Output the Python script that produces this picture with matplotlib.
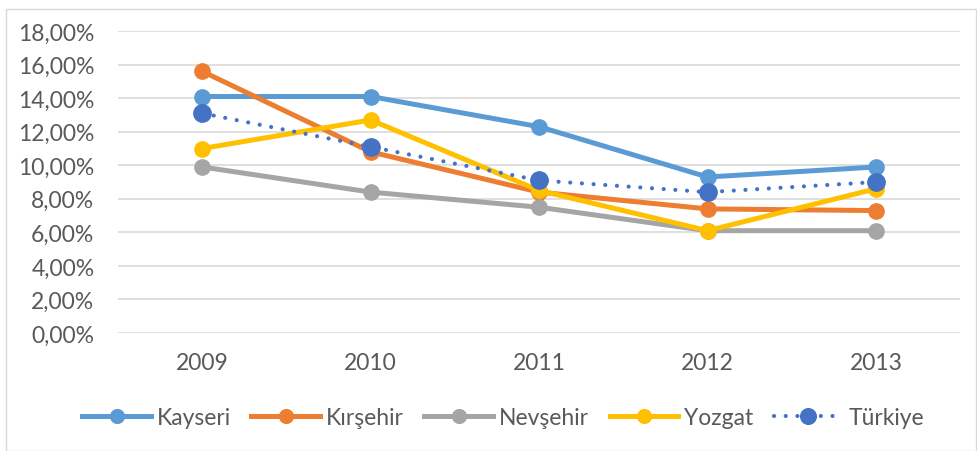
import matplotlib.pyplot as plt
from matplotlib.patches import Rectangle
from matplotlib.ticker import FuncFormatter

years = ["2009", "2010", "2011", "2012", "2013"]
kayseri = [14.1, 14.1, 12.3, 9.3, 9.9]
kirsehir = [15.6, 10.8, 8.4, 7.4, 7.3]
nevsehir = [9.9, 8.4, 7.5, 6.1, 6.1]
yozgat = [11.0, 12.7, 8.5, 6.1, 8.6]
turkiye = [13.1, 11.1, 9.1, 8.4, 9.0]

plt.rcParams['font.family'] = ['Lato', 'DejaVu Sans']

fig = plt.figure(figsize=(9.77, 4.52), dpi=100)
ax = fig.add_axes([0.1208, 0.261, 0.862, 0.668])

x = range(len(years))
ax.plot(x, kayseri, color='#5B9BD5', lw=3.6, marker='o', ms=11, label='Kayseri', zorder=3)
ax.plot(x, kirsehir, color='#ED7D31', lw=3.6, marker='o', ms=11, label='Kırşehir', zorder=3)
ax.plot(x, nevsehir, color='#A5A5A5', lw=3.6, marker='o', ms=11, label='Nevşehir', zorder=3)
ax.plot(x, yozgat, color='#FFC000', lw=3.6, marker='o', ms=11, label='Yozgat', zorder=3)
ax.plot(x, turkiye, color='#4472C4', lw=3.0, ls=(0, (0.01, 2.8)), dash_capstyle='round',
        marker='o', ms=12.5, label='Türkiye', zorder=4)

ax.set_xlim(-0.5, 4.5)
ax.set_ylim(0, 18)
ax.set_yticks(range(0, 19, 2))
ax.yaxis.set_major_formatter(FuncFormatter(lambda v, p: "{:.2f}%".format(v).replace('.', ',')))
ax.set_xticks(list(x))
ax.set_xticklabels(years)
ax.grid(axis='y', color='#D9D9D9', lw=1.2, zorder=0)
ax.tick_params(length=0, labelsize=16.5, labelcolor='#595959')
ax.tick_params(axis='y', pad=17)
ax.tick_params(axis='x', pad=14)
for s in ax.spines.values():
    s.set_visible(False)

leg = fig.legend(loc='center', bbox_to_anchor=(0.515, 0.075), ncol=5, frameon=False,
                 fontsize=16.5, handlelength=3.0, columnspacing=0.9, handletextpad=0.25,
                 markerscale=0.9)
for t in leg.get_texts():
    t.set_color('#595959')

fig.patches.append(Rectangle((0.006, 0.0), 0.993, 0.978, transform=fig.transFigure,
                             fill=False, edgecolor='#D9D9D9', lw=1))

plt.savefig("out.png")
